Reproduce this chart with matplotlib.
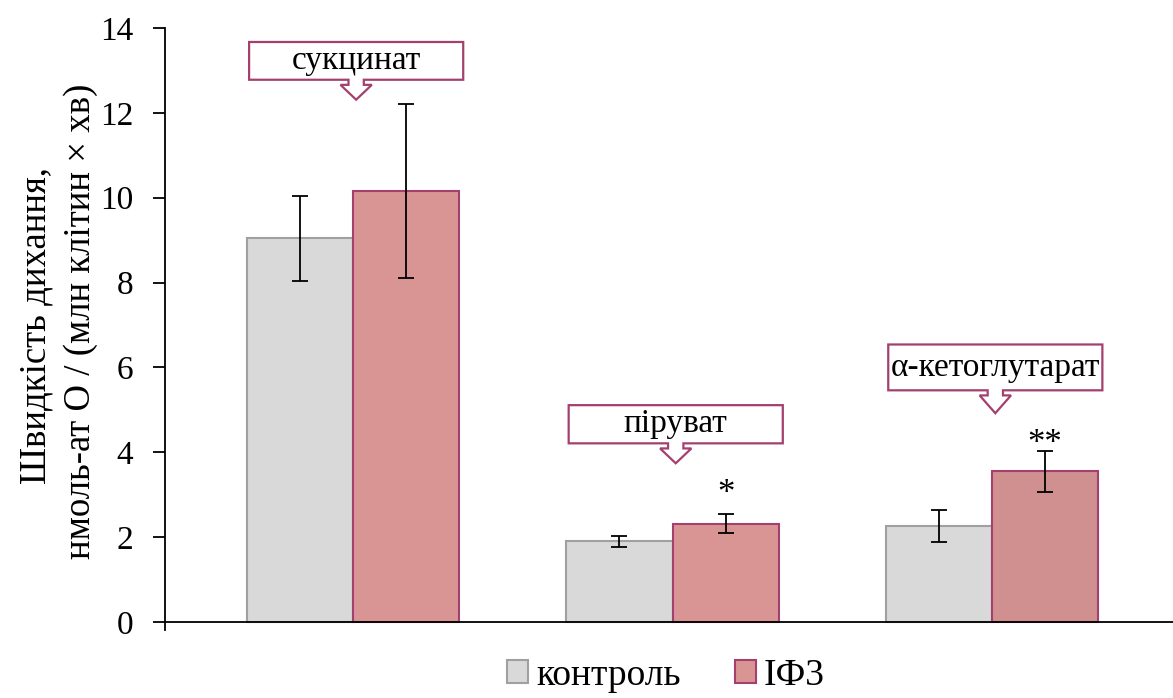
import matplotlib

matplotlib.use("Agg")
import matplotlib.pyplot as plt
import numpy as np
from matplotlib.patches import Patch, Polygon

plt.rcParams["font.family"] = ["Liberation Serif", "DejaVu Serif"]

# --- дані ---
substrates = ["сукцинат", "піруват", "α-кетоглутарат"]
control_mean = [9.04, 1.90, 2.27]
control_err = [1.01, 0.13, 0.38]
if3_mean = [10.16, 2.32, 3.55]
if3_err = [2.05, 0.22, 0.48]
marks = ["", "*", "**"]
mark_y = [0.0, 2.62, 3.8]
series_names = ["контроль", "ІФ3"]

# рамки-виноски: верх рамки, низ рамки, вістря стрілки (у одиницях осі Y)
callout_top = [13.67, 5.11, 6.54]
callout_bottom = [12.78, 4.21, 5.46]
callout_tip = [12.31, 3.74, 4.92]

CTRL_FACE, CTRL_EDGE = "#D9D9D9", "#A0A0A0"
IF3_FACES = ["#D99594", "#D99594", "#D19090"]
IF3_EDGE = "#A3406E"

fig = plt.figure(figsize=(11.73, 6.98), dpi=100)
ax = fig.add_axes([0.1407, 0.0974, 0.8593, 0.8625])

x = np.arange(len(substrates))
w = 0.332

ax.bar(x - w / 2, control_mean, w, color=CTRL_FACE, edgecolor=CTRL_EDGE,
       linewidth=1.5, zorder=2)
ax.bar(x + w / 2, if3_mean, w, color=IF3_FACES, edgecolor=IF3_EDGE,
       linewidth=1.5, zorder=2)
ax.errorbar(x - w / 2, control_mean, yerr=control_err, fmt="none",
            ecolor="black", elinewidth=1.3, capsize=6, capthick=1.3, zorder=3)
ax.errorbar(x + w / 2, if3_mean, yerr=if3_err, fmt="none",
            ecolor="black", elinewidth=1.3, capsize=6, capthick=1.3, zorder=3)

for xi, ym, s in zip(x, mark_y, marks):
    if s:
        ax.text(xi + w / 2, ym, s, ha="center", va="bottom",
                fontsize=25, zorder=4)

# виноски з назвами субстратів
box_hw = 0.335
shaft_hw, head_hw = 0.024, 0.049
shaft_h = 0.12
for xi, name, top, bot, tip in zip(x, substrates, callout_top,
                                   callout_bottom, callout_tip):
    cx = xi + 0.01
    pts = [
        (cx - box_hw, top), (cx + box_hw, top), (cx + box_hw, bot),
        (cx + shaft_hw, bot), (cx + shaft_hw, bot - shaft_h),
        (cx + head_hw, bot - shaft_h), (cx, tip),
        (cx - head_hw, bot - shaft_h), (cx - shaft_hw, bot - shaft_h),
        (cx - shaft_hw, bot), (cx - box_hw, bot),
    ]
    ax.add_patch(Polygon(pts, closed=True, facecolor="white",
                         edgecolor=IF3_EDGE, linewidth=1.6, zorder=5))
    ax.text(cx, (top + bot) / 2, name, ha="center", va="center",
            fontsize=24, zorder=6)

# вісь Y трохи заходить нижче нуля, вісь X — на рівні нуля
ax.set_xlim(-0.588, 2.566)
ax.set_ylim(-0.19, 14)
ax.set_yticks(np.arange(0, 15, 2))
ax.set_xticks([])
ax.tick_params(axis="y", labelsize=24, length=9, width=1.3, direction="out",
               pad=14)
for side in ("top", "right"):
    ax.spines[side].set_visible(False)
ax.spines["bottom"].set_position(("data", 0))
ax.spines["left"].set_linewidth(1.3)
ax.spines["bottom"].set_linewidth(1.3)

fig.text(0.031, 0.533, "Швидкість дихання,", rotation=90, ha="center",
         va="center", fontsize=26.5)
fig.text(0.069, 0.54, "нмоль-ат О / (млн клітин × хв)", rotation=90,
         ha="center", va="center", fontsize=26.5)

handles = [
    Patch(facecolor=CTRL_FACE, edgecolor=CTRL_EDGE, linewidth=1.5),
    Patch(facecolor=IF3_FACES[0], edgecolor=IF3_EDGE, linewidth=1.5),
]
fig.legend(handles, series_names, loc="center",
           bbox_to_anchor=(0.568, 0.032), ncol=2, frameon=False,
           fontsize=27, handlelength=0.55, handleheight=0.55,
           handletextpad=0.22, columnspacing=1.45, borderpad=0.1)

fig.savefig("out.png", dpi=100)
